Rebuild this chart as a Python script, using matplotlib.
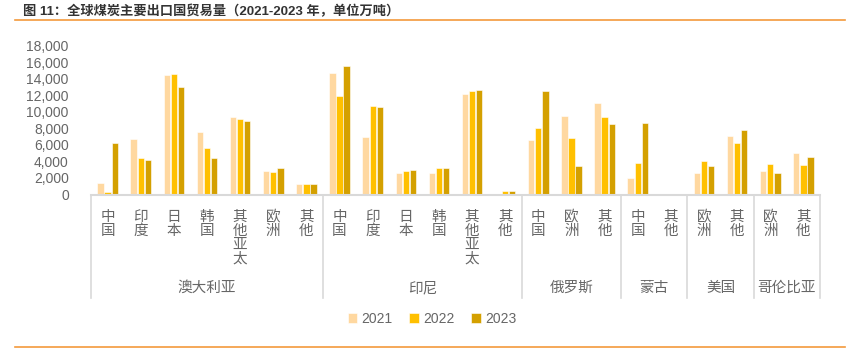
import matplotlib
matplotlib.use("Agg")
import matplotlib.pyplot as plt
import matplotlib.transforms as mtransforms
import numpy as np

plt.rcParams['font.family'] = ['Liberation Sans', 'Noto Sans CJK SC', 'DejaVu Sans']

title = "图 11：全球煤炭主要出口国贸易量（2021-2023 年，单位万吨）"

groups = ["澳大利亚", "印尼", "俄罗斯", "蒙古", "美国", "哥伦比亚"]
group_cats = [
    ["中国", "印度", "日本", "韩国", "其他亚太", "欧洲", "其他"],
    ["中国", "印度", "日本", "韩国", "其他亚太", "其他"],
    ["中国", "欧洲", "其他"],
    ["中国", "其他"],
    ["欧洲", "其他"],
    ["欧洲", "其他"],
]
years = ["2021", "2022", "2023"]

v2021 = [1400, 6700, 14400, 7550, 9400, 2800, 1250,
         14700, 6950, 2550, 2550, 12200, 50,
         6650, 9550, 11050,
         2000, 120,
         2660, 7050,
         2820, 5000]
v2022 = [350, 4400, 14600, 5650, 9100, 2700, 1250,
         11900, 10700, 2800, 3150, 12500, 480,
         8100, 6800, 9400,
         3870, 90,
         4000, 6170,
         3670, 3550]
v2023 = [6200, 4200, 12950, 4450, 8870, 3150, 1250,
         15550, 10550, 3000, 3150, 12600, 480,
         12500, 3430, 8500,
         8700, 30,
         3430, 7780,
         2660, 4560]

colors = ["#FFD8A0", "#FFC000", "#D4A000"]
gray = "#666666"
orange = "#F39A3C"

fig = plt.figure(figsize=(8.59, 3.54), dpi=100)
ax = fig.add_axes([91 / 859, 1 - 194.5 / 354, 729 / 859, 148.8 / 354])

cats = [c for g in group_cats for c in g]
x = np.arange(len(cats))
step = 0.215
for i, vals in enumerate([v2021, v2022, v2023]):
    ax.bar(x + (i - 1) * step, vals, width=0.19, color=colors[i],
           edgecolor="white", linewidth=0.4, label=years[i], zorder=2)

ax.set_xlim(-0.5, len(cats) - 0.5)
ax.set_ylim(0, 18000)
ax.set_yticks(range(0, 18001, 2000))
ax.set_yticklabels(["{:,}".format(v) for v in range(0, 18001, 2000)])
ax.tick_params(axis="y", length=0, pad=16, labelsize=10, labelcolor=gray)
ax.tick_params(axis="x", length=0, labelbottom=False)
for s in ["left", "right", "top"]:
    ax.spines[s].set_visible(False)
ax.spines["bottom"].set_color("#D9D9D9")
ax.spines["bottom"].set_linewidth(1.5)

trans = mtransforms.blended_transform_factory(ax.transData, ax.transAxes)
for xi, c in zip(x, cats):
    ax.text(xi, -0.105, "\n".join(c), transform=trans, ha="center", va="top",
            fontsize=10.5, color=gray, linespacing=0.98, clip_on=False)

# group labels and separators
start = 0
bounds = [start]
for g, cs in zip(groups, group_cats):
    end = start + len(cs)
    ax.text((start + end - 1) / 2, -0.63, g, transform=trans, ha="center",
            va="center", fontsize=10.5, color=gray, clip_on=False)
    start = end
    bounds.append(start)
for b in bounds:
    ax.plot([b - 0.5, b - 0.5], [0, -0.695], transform=trans, color="#D9D9D9",
            linewidth=1.2, clip_on=False)

fig.legend(loc="center", bbox_to_anchor=(432 / 859, 1 - 319 / 354), ncol=3,
           frameon=False, fontsize=10, labelcolor=gray, handlelength=0.7,
           handleheight=0.7, handletextpad=0.3, columnspacing=1.2)

fig.text(23 / 859, 1 - 12 / 354, title, fontsize=9.5, fontweight="bold",
         color="#333333", ha="left", va="center")
fig.add_artist(plt.Line2D([15 / 859, 845 / 859], [1 - 20 / 354, 1 - 20 / 354],
                          color=orange, linewidth=1.2))
fig.add_artist(plt.Line2D([15 / 859, 845 / 859], [1 - 347 / 354, 1 - 347 / 354],
                          color=orange, linewidth=1.2))

fig.savefig("out.png", dpi=100)
